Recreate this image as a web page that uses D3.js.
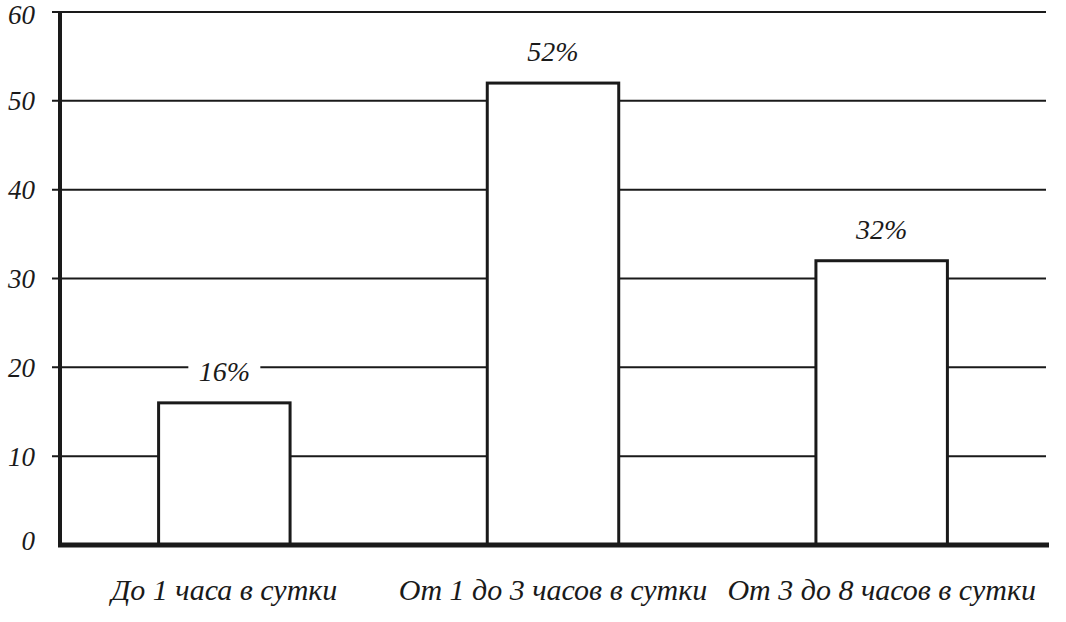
<!DOCTYPE html>
<html><head><meta charset="utf-8">
<script src="https://cdn.jsdelivr.net/npm/d3@7"></script>
<style>body{margin:0;background:#fff}svg{display:block}</style>
</head><body>
<svg id="c" width="1066" height="622"></svg>
<script>
const categories = ["До 1 часа в сутки", "От 1 до 3 часов в сутки", "От 3 до 8 часов в сутки"];
const values = [16, 52, 32];
const valueLabels = ["16%", "52%", "32%"];
const yTicks = [0, 10, 20, 30, 40, 50, 60];

const svg = d3.select("#c");
const font = "'Liberation Serif', serif";
const ink = "#1a1a1a";
const x = d3.scaleBand().domain(categories).range([60, 1046]).paddingInner(0.6).paddingOuter(0.3);
const y = d3.scaleLinear().domain([0, 60]).range([545, 12]);

// gridlines
svg.append("g").selectAll("line").data(yTicks.filter(d => d > 0)).join("line")
  .attr("x1", 52).attr("x2", 1046).attr("y1", d => y(d)).attr("y2", d => y(d))
  .attr("stroke", ink).attr("stroke-width", 2);

// y tick labels
svg.append("g").selectAll("text").data(yTicks).join("text")
  .attr("x", 35).attr("y", d => Math.max(y(d), 15)).attr("dy", d => d === 0 ? "0.2em" : "0.35em")
  .attr("text-anchor", "end")
  .attr("font-family", font).attr("font-style", "italic").attr("font-size", 27)
  .attr("fill", ink).text(d => d);

// bars
svg.append("g").selectAll("rect").data(values).join("rect")
  .attr("x", (d, i) => x(categories[i])).attr("width", x.bandwidth())
  .attr("y", d => y(d)).attr("height", d => y(0) - y(d))
  .attr("fill", "#fff").attr("stroke", ink).attr("stroke-width", 3);

// value labels with white backing
const vl = svg.append("g").selectAll("g").data(values).join("g")
  .attr("transform", (d, i) => `translate(${x(categories[i]) + x.bandwidth() / 2},${y(d) - 22})`);
vl.append("rect").attr("x", -36).attr("y", -24).attr("width", 72).attr("height", 32).attr("fill", "#fff");
vl.append("text").attr("text-anchor", "middle")
  .attr("font-family", font).attr("font-style", "italic").attr("font-size", 28).attr("fill", ink)
  .text((d, i) => valueLabels[i]);

// axes
svg.append("line").attr("x1", 60).attr("x2", 60).attr("y1", 13).attr("y2", 547)
  .attr("stroke", ink).attr("stroke-width", 4);
svg.append("line").attr("x1", 58).attr("x2", 1049).attr("y1", y(0)).attr("y2", y(0))
  .attr("stroke", ink).attr("stroke-width", 5);

// category labels
svg.append("g").selectAll("text").data(categories).join("text")
  .attr("x", d => x(d) + x.bandwidth() / 2).attr("y", 600).attr("text-anchor", "middle")
  .attr("font-family", font).attr("font-style", "italic").attr("font-size", 30).attr("fill", ink)
  .text(d => d);
</script>
</body></html>
